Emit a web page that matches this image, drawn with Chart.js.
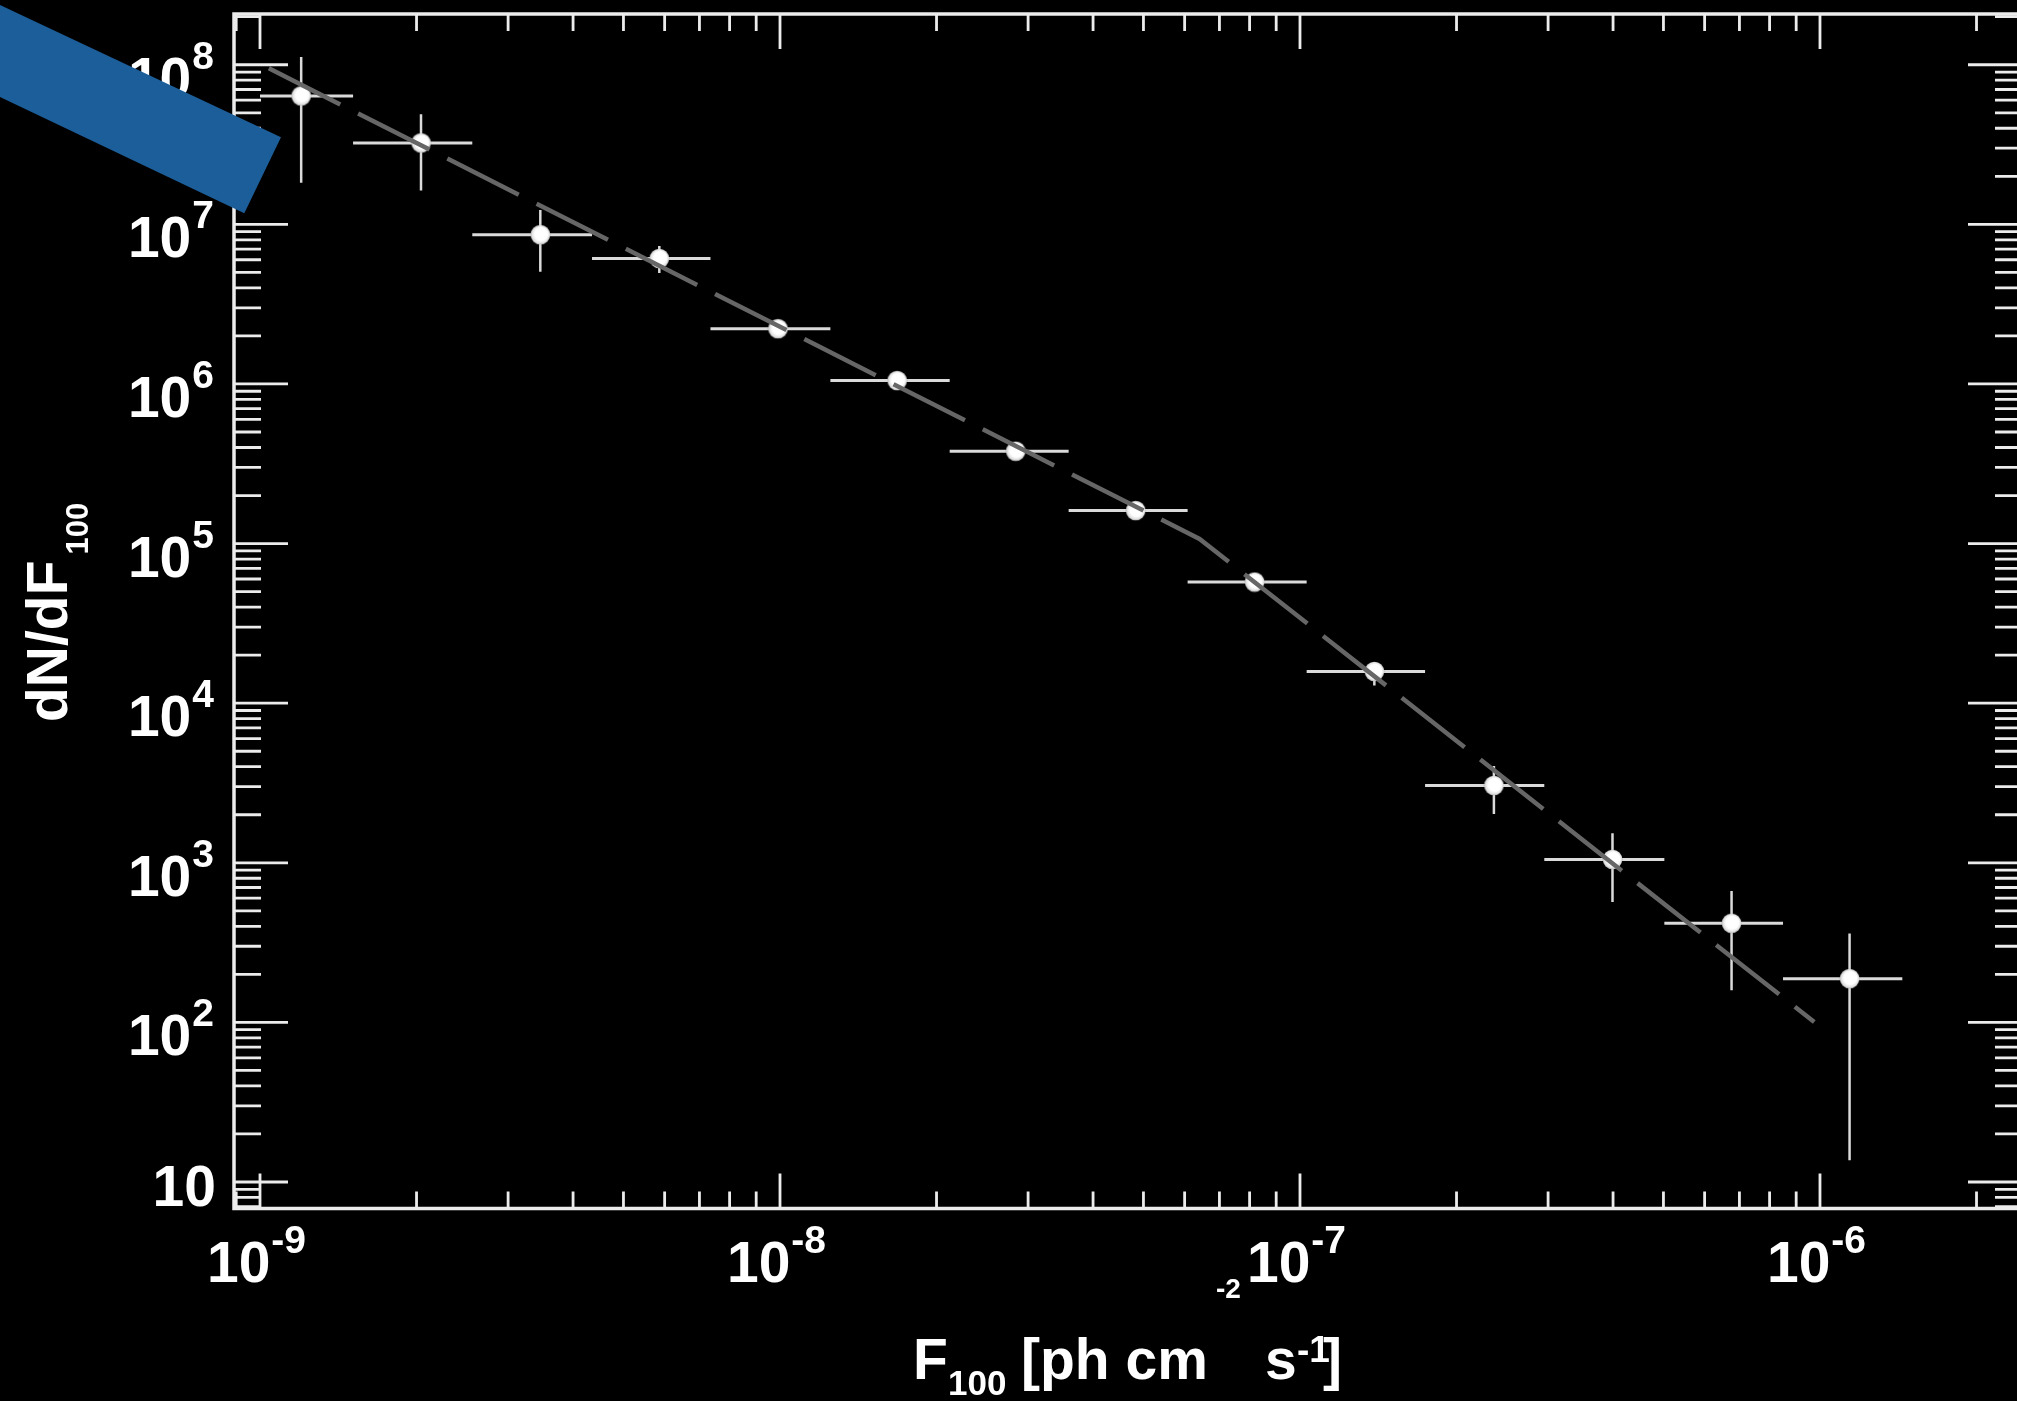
<!DOCTYPE html>
<html><head><meta charset="utf-8">
<style>
html,body{margin:0;padding:0;background:#000;overflow:hidden;width:2017px;height:1401px}
#wrap{position:absolute;left:0;top:0;width:2040px;height:1401px}
canvas{display:block}
</style>
<script src="https://cdn.jsdelivr.net/npm/chart.js@4.4.1/dist/chart.umd.min.js"></script>
</head><body><div id="wrap"><canvas id="c" width="2040" height="1401"></canvas></div>
<script>
// ---- data ----
const fluxCenters = [1.20e-9, 2.04e-9, 3.46e-9, 5.86e-9, 9.91e-9, 1.68e-8, 2.84e-8, 4.83e-8, 8.18e-8, 1.39e-7, 2.36e-7, 3.99e-7, 6.76e-7, 1.14e-6];
const binEdges = [1.0e-9, 1.51e-9, 2.56e-9, 4.35e-9, 7.35e-9, 1.25e-8, 2.12e-8, 3.59e-8, 6.08e-8, 1.03e-7, 1.74e-7, 2.95e-7, 5.02e-7, 8.49e-7, 1.44e-6];
const dNdF = [6.38e7, 3.24e7, 8.61e6, 6.11e6, 2.22e6, 1.05e6, 3.79e5, 1.61e5, 5.74e4, 1.58e4, 3.05e3, 1.05e3, 418, 188];
const dNdFUpper = [1.12e8, 4.90e7, 1.23e7, 7.31e6, 2.38e6, 1.10e6, 3.95e5, 1.67e5, 5.95e4, 1.80e4, 4.04e3, 1.53e3, 665, 361];
const dNdFLower = [1.82e7, 1.63e7, 5.04e6, 4.95e6, 1.98e6, 1.00e6, 3.63e5, 1.55e5, 5.53e4, 1.29e4, 2.02e3, 568, 159, 13.7];
const modelFlux = [1.04e-9, 6.41e-8, 9.75e-7];
const modelDNdF = [9.5e7, 1.07e5, 100.6];
const xTickExponents = [-9, -8, -7, -6];
const yTickExponents = [1, 2, 3, 4, 5, 6, 7, 8];
const xMin = Math.pow(10, -9.05), xMax = Math.pow(10, -5.6115);
const yMin = Math.pow(10, 0.834), yMax = Math.pow(10, 8.318);

const FONT = '"Liberation Sans", Arial, Helvetica, sans-serif';
const FG = '#ececec';

// marker image
const marker = document.createElement('canvas');
marker.width = 21; marker.height = 21;
(function(){
  const m = marker.getContext('2d');
  const g = m.createRadialGradient(12.5, 8.5, 1, 10.5, 10.5, 10);
  g.addColorStop(0, '#ffffff'); g.addColorStop(0.6, '#ffffff');
  g.addColorStop(0.88, '#dedede'); g.addColorStop(1, '#a0a0a0');
  m.fillStyle = g; m.beginPath(); m.arc(10.5, 10.5, 9.8, 0, Math.PI * 2); m.fill();
})();

function minorValues(lo, hi, eFrom, eTo) {
  const out = [];
  for (let e = eFrom; e <= eTo; e++) for (let k = 2; k <= 9; k++) {
    const v = k * Math.pow(10, e);
    if (v > lo && v < hi) out.push(v);
  }
  return out;
}

const decor = {
  id: 'decor',
  beforeDraw(chart) {
    const ctx = chart.ctx;
    ctx.save(); ctx.fillStyle = '#000'; ctx.fillRect(0, 0, chart.width, chart.height); ctx.restore();
  },
  beforeDatasetsDraw(chart) {
    const { ctx, chartArea: a, scales: { x, y } } = chart;
    ctx.save();
    ctx.beginPath(); ctx.rect(a.left, a.top, a.right - a.left, a.bottom - a.top); ctx.clip();
    ctx.strokeStyle = '#dadada'; ctx.lineCap = 'butt';
    for (let i = 0; i < dNdF.length; i++) {
      const px = x.getPixelForValue(fluxCenters[i]);
      const py = y.getPixelForValue(dNdF[i]);
      ctx.lineWidth = 3;
      ctx.beginPath();
      ctx.moveTo(x.getPixelForValue(binEdges[i]), py);
      ctx.lineTo(x.getPixelForValue(binEdges[i + 1]), py);
      ctx.stroke();
      ctx.lineWidth = 2.5;
      ctx.beginPath();
      ctx.moveTo(px, y.getPixelForValue(dNdFUpper[i]));
      ctx.lineTo(px, y.getPixelForValue(dNdFLower[i]));
      ctx.stroke();
    }
    ctx.restore();
  },
  afterDraw(chart) {
    const { ctx, chartArea: a, scales: { x, y } } = chart;
    ctx.save();
    ctx.strokeStyle = FG; ctx.fillStyle = FG;
    // frame
    ctx.lineWidth = 3.5;
    ctx.strokeRect(a.left, a.top, a.right - a.left, a.bottom - a.top);
    // ticks
    ctx.lineWidth = 2.8;
    const yMaj = yTickExponents.map(e => Math.pow(10, e));
    const yMin_ = minorValues(yMin, yMax, 0, 8);
    const xMaj = xTickExponents.map(e => Math.pow(10, e));
    const xMin_ = minorValues(xMin, xMax, -10, -6);
    ctx.beginPath();
    const yt = (v, len) => { const p = y.getPixelForValue(v);
      ctx.moveTo(a.left, p); ctx.lineTo(a.left + len, p);
      ctx.moveTo(a.right, p); ctx.lineTo(a.right - len, p); };
    const xt = (v, len) => { const p = x.getPixelForValue(v);
      ctx.moveTo(p, a.bottom); ctx.lineTo(p, a.bottom - len);
      ctx.moveTo(p, a.top); ctx.lineTo(p, a.top + len); };
    yMaj.forEach(v => yt(v, 54)); yMin_.forEach(v => yt(v, 27));
    xMaj.forEach(v => xt(v, 35)); xMin_.forEach(v => xt(v, 17));
    ctx.stroke();

    // tick labels
    const baseF = 'bold 57px ' + FONT, expF = 'bold 39px ' + FONT;
    ctx.fillStyle = '#ffffff';
    ctx.textBaseline = 'alphabetic'; ctx.textAlign = 'left';
    yTickExponents.forEach(e => {
      const p = y.getPixelForValue(Math.pow(10, e));
      ctx.font = baseF; const wb = ctx.measureText('10').width;
      if (e === 1) {
        ctx.fillText('10', 216 - wb, p + 24);
      } else {
        const es = String(e);
        ctx.font = expF; const we = ctx.measureText(es).width;
        const left = 214 - wb - we - 1;
        ctx.font = baseF; ctx.fillText('10', left, p + 33);
        ctx.font = expF; ctx.fillText(es, left + wb + 1, p + 4);
      }
    });
    xTickExponents.forEach(e => {
      const p = x.getPixelForValue(Math.pow(10, e));
      const es = '-' + String(-e);
      ctx.font = baseF; const wb = ctx.measureText('10').width;
      ctx.font = expF; const we = ctx.measureText(es).width;
      const left = p - 4 - (wb + we) / 2;
      ctx.font = baseF; ctx.fillText('10', left, 1282);
      ctx.font = expF; ctx.fillText(es, left + wb + 1, 1253);
    });

    // y title
    ctx.save();
    ctx.translate(67, 722); ctx.rotate(-Math.PI / 2);
    ctx.font = 'bold 57px ' + FONT; ctx.fillText('dN/dF', 0, 0);
    const wt = ctx.measureText('dN/dF').width;
    ctx.font = 'bold 31px ' + FONT; ctx.fillText('100', wt + 6, 21);
    ctx.restore();

    // x title
    ctx.font = 'bold 57px ' + FONT;
    ctx.fillText('F', 913, 1379);
    ctx.fillText('[ph cm', 1021, 1379);
    ctx.fillText('s', 1265, 1379);
    ctx.fillText(']', 1323, 1379);
    ctx.font = 'bold 35px ' + FONT;
    ctx.fillText('100', 948, 1395);
    ctx.font = 'bold 37px ' + FONT;
    ctx.fillText('-1', 1297, 1362);
    ctx.font = 'bold 28px ' + FONT;
    ctx.fillText('-2', 1216, 1298);

    // blue band overlay
    ctx.fillStyle = '#1c5e99';
    ctx.beginPath();
    ctx.moveTo(-20, -4.3); ctx.lineTo(281, 137.3); ctx.lineTo(244.3, 213.3); ctx.lineTo(-20, 87.5);
    ctx.closePath(); ctx.fill();
    ctx.restore();
  }
};

new Chart(document.getElementById('c'), {
  type: 'scatter',
  data: {
    datasets: [
      {
        type: 'line',
        label: 'model',
        data: modelFlux.map((v, i) => ({ x: v, y: modelDNdF[i] })),
        borderColor: '#666666',
        borderWidth: 4.5,
        borderDash: [80, 20],
        pointRadius: 0,
        tension: 0,
        fill: false,
        order: 0
      },
      {
        label: 'data',
        data: fluxCenters.map((v, i) => ({ x: v, y: dNdF[i] })),
        pointStyle: marker,
        pointRadius: 10,
        order: 1
      }
    ]
  },
  options: {
    responsive: false,
    animation: false,
    devicePixelRatio: 1,
    layout: { padding: { left: 234, right: 18, top: 14, bottom: 192.5 } },
    plugins: { legend: { display: false }, tooltip: { enabled: false } },
    scales: {
      x: { type: 'logarithmic', min: xMin, max: xMax, display: false },
      y: { type: 'logarithmic', min: yMin, max: yMax, display: false }
    }
  },
  plugins: [decor]
});
</script>
</body></html>
